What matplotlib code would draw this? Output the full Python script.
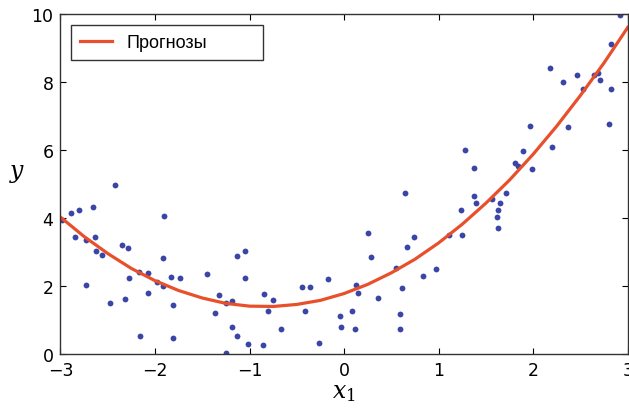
import numpy as np
import matplotlib
matplotlib.use("Agg")
import matplotlib.pyplot as plt

plt.rcParams["mathtext.fontset"] = "dejavuserif"

# точки данных
x_pts = [-2.98, -2.89, -2.80, -2.65, -2.42, -2.85, -2.73, -2.63, -2.62, -2.56,
         -2.73, -2.35, -2.29, -2.48, -2.27, -2.32, -2.17, -2.07, -2.07, -1.98,
         -1.92, -1.90, -1.91, -1.83, -1.73, -1.81, -2.16, -1.81,
         -1.45, -1.32, -1.37, -1.25, -1.18, -1.18, -1.13, -1.02, -1.25, -1.13,
         -1.05, -1.05, -0.85, -0.75, -0.80, -0.67, -0.86, -0.44, -0.36, -0.17,
         -0.41, -0.26, -0.04, -0.03,
         0.08, 0.12, 0.13, 0.15, 0.25, 0.28, 0.36, 0.55, 0.61, 0.59,
         0.59, 0.64, 0.67, 0.74, 0.83, 0.97, 1.11, 1.25, 1.24, 1.37,
         1.39, 1.37, 1.28,
         1.56, 1.65, 1.63, 1.62, 1.63, 1.71, 1.81, 1.84, 1.89, 1.99,
         1.97, 2.20, 2.18, 2.32, 2.37, 2.46, 2.53, 2.64, 2.69, 2.71,
         2.82, 2.80, 2.82, 2.92]
y_pts = [3.95, 4.15, 4.24, 4.33, 4.96, 3.45, 3.36, 3.43, 3.03, 2.92,
         2.04, 3.21, 3.11, 1.51, 2.23, 1.62, 2.40, 2.38, 1.81, 2.13,
         1.99, 4.07, 2.84, 2.28, 2.25, 1.45, 0.53, 0.47,
         2.35, 1.74, 1.21, 1.50, 1.56, 0.80, 0.53, 0.31, 0.04, 2.89,
         3.03, 2.25, 1.76, 1.59, 1.26, 0.74, 0.26, 1.96, 1.97, 2.22,
         1.26, 0.32, 1.12, 0.80,
         1.26, 0.73, 2.03, 1.79, 3.55, 2.87, 1.65, 2.52, 1.94, 1.18,
         0.74, 4.73, 3.16, 3.45, 2.30, 2.50, 3.49, 3.49, 4.24, 4.65,
         4.44, 5.48, 5.99,
         4.55, 4.44, 4.25, 4.02, 3.70, 4.75, 5.63, 5.54, 5.96, 5.44,
         6.71, 6.08, 8.41, 7.99, 6.67, 8.22, 7.79, 8.22, 8.26, 8.06,
         7.79, 6.77, 9.13, 9.97]

# кривая прогнозов
x_curve = [-3.0, -2.75, -2.5, -2.25, -2.0, -1.75, -1.5, -1.25, -1.0, -0.75,
           -0.5, -0.25, 0.0, 0.25, 0.5, 0.75, 1.0, 1.25, 1.5, 1.75,
           2.0, 2.25, 2.5, 2.75, 3.0]
y_curve = [4.03, 3.46, 2.96, 2.52, 2.16, 1.87, 1.65, 1.49, 1.41, 1.40,
           1.46, 1.58, 1.78, 2.05, 2.39, 2.79, 3.27, 3.82, 4.44, 5.12,
           5.88, 6.71, 7.61, 8.57, 9.61]

fig = plt.figure(figsize=(6.29, 4.10), dpi=100)
ax = fig.add_axes([0.096, 0.134, 0.902, 0.829])

ax.plot(x_pts, y_pts, "o", color="#3a45a6", ms=4.2, mec="none")
ax.plot(x_curve, y_curve, "-", color="#e8502c", lw=2.3, label="Прогнозы")

ax.set_xlim(-3, 3)
ax.set_ylim(0, 10)
ax.set_xticks([-3, -2, -1, 0, 1, 2, 3])
ax.set_yticks([0, 2, 4, 6, 8, 10])
ax.set_xticklabels(["\u22123", "\u22122", "\u22121", "0", "1", "2", "3"])
ax.tick_params(direction="in", top=True, right=True, labelsize=12.5,
               length=4, width=0.8, pad=5)
for s in ax.spines.values():
    s.set_linewidth(1.0)
    s.set_color("#333333")

ax.set_xlabel("$x_1$", fontsize=17, labelpad=0)
ax.set_ylabel("$y$", fontsize=17, rotation=0, labelpad=10)

leg = ax.legend(loc="upper left", bbox_to_anchor=(0.018, 0.968, 0.34, 0.0),
                mode="expand", prop={"family": "Liberation Sans", "size": 13},
                fancybox=False, framealpha=1, edgecolor="#333333",
                borderpad=0.5, handlelength=1.8, borderaxespad=0.0)
leg.get_frame().set_linewidth(1.0)

fig.savefig("out.png", dpi=100)
